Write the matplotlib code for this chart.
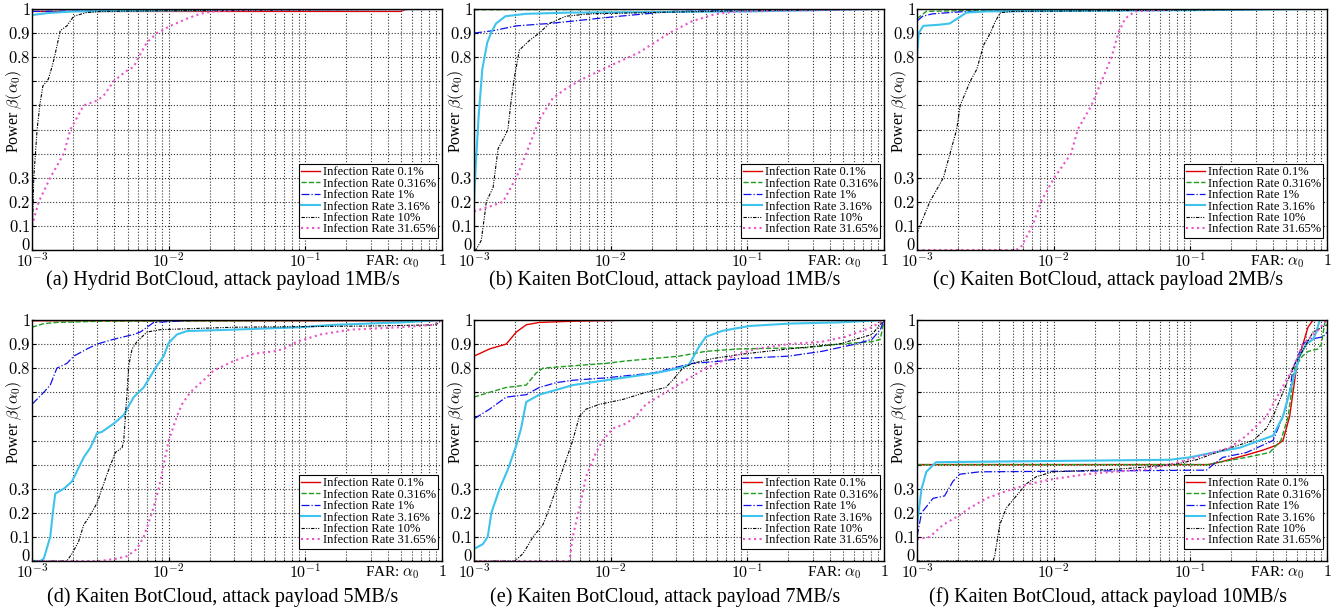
import numpy as np
import matplotlib.pyplot as plt
from matplotlib.ticker import LogLocator, NullFormatter
import matplotlib.transforms as mtransforms

plt.rcParams['font.family'] = 'Liberation Serif'
plt.rcParams['mathtext.fontset'] = 'cm'

labels = ['Infection Rate 0.1%', 'Infection Rate 0.316%', 'Infection Rate 1%',
          'Infection Rate 3.16%', 'Infection Rate 10%', 'Infection Rate 31.65%']
captions = ['(a) Hydrid BotCloud, attack payload 1MB/s',
            '(b) Kaiten BotCloud, attack payload 1MB/s',
            '(c) Kaiten BotCloud, attack payload 2MB/s',
            '(d) Kaiten BotCloud, attack payload 5MB/s',
            '(e) Kaiten BotCloud, attack payload 7MB/s',
            '(f) Kaiten BotCloud, attack payload 10MB/s']

# (a) Hydrid, 1MB/s
a_x_01 = [1e-3, 0.5, 0.55, 1]
a_y_01 = [0.99, 0.99, 1.0, 1.0]
a_x_0316 = [1e-3, 1]
a_y_0316 = [0.998, 1.0]
a_x_1 = [1e-3, 3e-3, 0.1, 1]
a_y_1 = [0.99, 0.993, 0.997, 1.0]
a_x_316 = [1e-3, 1.3e-3, 2e-3, 2e-2, 1]
a_y_316 = [0.975, 0.983, 0.99, 0.995, 1.0]
a_x_10 = [1e-3, 1.03e-3, 1.09e-3, 1.14e-3, 1.2e-3, 1.32e-3, 1.4e-3, 1.46e-3, 1.61e-3,
          1.8e-3, 2.02e-3, 2.5e-3, 3.2e-3, 1e-2, 0.1, 1]
a_y_10 = [0.0, 0.3, 0.5, 0.6, 0.68, 0.71, 0.76, 0.8, 0.91, 0.93, 0.97, 0.985, 0.99,
          0.993, 0.996, 1.0]
a_x_3165 = [1e-3, 1.12e-3, 1.36e-3, 1.71e-3, 1.91e-3, 2.39e-3, 2.99e-3, 3.34e-3, 3.96e-3,
            4.82e-3, 5.55e-3, 6.03e-3, 6.9e-3, 8.2e-3, 1.03e-2, 1.36e-2, 1.7e-2, 2.1e-2,
            3.0e-2, 1]
a_y_3165 = [0.1, 0.2, 0.3, 0.4, 0.5, 0.6, 0.62, 0.64, 0.7, 0.74, 0.76, 0.8, 0.86, 0.9,
            0.93, 0.96, 0.98, 0.99, 0.995, 1.0]

# (b) Kaiten, 1MB/s
b_x_01 = [1e-3, 1]
b_y_01 = [0.999, 1.0]
b_x_0316 = [1e-3, 1]
b_y_0316 = [0.997, 1.0]
b_x_1 = [1e-3, 1.38e-3, 2.04e-3, 3.56e-3, 5.3e-3, 7.8e-3, 1.16e-2, 2.8e-2, 8.7e-2, 1]
b_y_1 = [0.9, 0.91, 0.93, 0.94, 0.95, 0.96, 0.97, 0.99, 0.995, 1.0]
b_x_316 = [1e-3, 1.03e-3, 1.08e-3, 1.15e-3, 1.25e-3, 1.33e-3, 1.45e-3, 1.7e-3, 2.4e-3,
           5e-3, 0.1, 1]
b_y_316 = [0.2, 0.35, 0.55, 0.75, 0.86, 0.9, 0.94, 0.97, 0.98, 0.985, 0.99, 1.0]
b_x_10 = [1e-3, 1.04e-3, 1.13e-3, 1.2e-3, 1.23e-3, 1.38e-3, 1.5e-3, 1.67e-3, 1.77e-3,
          1.87e-3, 1.98e-3, 2.15e-3, 2.55e-3, 3.0e-3, 3.56e-3, 4.7e-3, 7.0e-3, 0.05, 1]
b_y_10 = [0.0, 0.003, 0.04, 0.15, 0.2, 0.26, 0.42, 0.47, 0.5, 0.62, 0.72, 0.83, 0.87,
          0.9, 0.94, 0.97, 0.98, 0.99, 1.0]
b_x_3165 = [1e-3, 1.3e-3, 1.63e-3, 2.04e-3, 2.41e-3, 3.0e-3, 3.77e-3, 4.72e-3, 6.25e-3,
            1.04e-2, 1.62e-2, 2.68e-2, 3.97e-2, 5.9e-2, 8.7e-2, 1]
b_y_3165 = [0.16, 0.18, 0.2, 0.3, 0.4, 0.54, 0.63, 0.67, 0.71, 0.77, 0.82, 0.9, 0.95,
            0.98, 0.99, 1.0]

# (c) Kaiten, 2MB/s
c_x_01 = [1e-3, 1]
c_y_01 = [0.999, 1.0]
c_x_0316 = [1e-3, 1.17e-3, 3e-3, 1]
c_y_0316 = [0.96, 0.99, 0.995, 1.0]
c_x_1 = [1e-3, 1.1e-3, 1.3e-3, 2.3e-3, 1]
c_y_1 = [0.95, 0.97, 0.98, 0.99, 1.0]
c_x_316 = [1e-3, 1.03e-3, 1.11e-3, 1.47e-3, 1.74e-3, 1.85e-3, 2.3e-3, 3.25e-3, 0.1, 1]
c_y_316 = [0.8, 0.9, 0.93, 0.935, 0.94, 0.95, 0.985, 0.99, 0.995, 1.0]
c_x_10 = [1e-3, 1.05e-3, 1.24e-3, 1.56e-3, 1.95e-3, 2.07e-3, 2.45e-3, 2.74e-3, 3.07e-3,
          3.44e-3, 3.75e-3, 4.08e-3, 5.1e-3, 1]
c_y_10 = [0.07, 0.1, 0.2, 0.3, 0.5, 0.6, 0.7, 0.75, 0.85, 0.9, 0.95, 0.985, 0.99, 1.0]
c_x_3165 = [1e-3, 5.27e-3, 5.74e-3, 7.0e-3, 8.06e-3, 1.01e-2, 1.34e-2, 1.5e-2, 1.89e-2,
            2.24e-2, 2.65e-2, 2.97e-2, 3.33e-2, 3.94e-2, 8.7e-2, 1]
c_y_3165 = [0.0, 0.0, 0.01, 0.1, 0.2, 0.3, 0.4, 0.5, 0.6, 0.7, 0.8, 0.9, 0.96, 0.99,
            1.0, 1.0]

# (d) Kaiten, 5MB/s
d_x_01 = [1e-3, 0.8, 1]
d_y_01 = [0.997, 0.997, 1.0]
d_x_0316 = [1e-3, 1.22e-3, 1.52e-3, 3.2e-3, 1]
d_y_0316 = [0.97, 0.985, 0.99, 0.995, 1.0]
d_x_1 = [1e-3, 1.22e-3, 1.36e-3, 1.52e-3, 1.8e-3, 2.02e-3, 2.53e-3, 2.99e-3, 3.96e-3,
         5.55e-3, 6.2e-3, 7.77e-3, 1.7e-2, 1]
d_y_1 = [0.65, 0.7, 0.73, 0.8, 0.82, 0.85, 0.88, 0.9, 0.92, 0.94, 0.95, 0.99, 1.0, 1.0]
d_x_316 = [1e-3, 1.15e-3, 1.22e-3, 1.36e-3, 1.42e-3, 1.48e-3, 1.71e-3, 1.96e-3, 2.39e-3,
           2.67e-3, 2.99e-3, 3.25e-3, 3.96e-3, 4.69e-3, 5.55e-3, 6.56e-3, 8.2e-3, 9.2e-3,
           1.0e-2, 1.15e-2, 1.36e-2, 2.99e-2, 9.2e-2, 0.16, 0.5, 1]
d_y_316 = [0.0, 0.0, 0.01, 0.1, 0.2, 0.28, 0.3, 0.33, 0.43, 0.47, 0.53, 0.536, 0.57,
           0.606, 0.68, 0.72, 0.81, 0.85, 0.905, 0.94, 0.954, 0.96, 0.97, 0.98, 0.99, 1.0]
d_x_10 = [1e-3, 1.8e-3, 1.96e-3, 2.19e-3, 2.39e-3, 2.6e-3, 2.99e-3, 3.16e-3, 3.54e-3,
          4.07e-3, 4.56e-3, 4.69e-3, 4.96e-3, 5.1e-3, 5.4e-3, 5.86e-3, 6.94e-3, 8.7e-3,
          3e-2, 0.3, 0.9, 1]
d_y_10 = [0.0, 0.0, 0.03, 0.08, 0.15, 0.18, 0.24, 0.28, 0.36, 0.45, 0.47, 0.5, 0.7,
          0.81, 0.88, 0.91, 0.95, 0.96, 0.97, 0.975, 0.98, 1.0]
d_x_3165 = [1e-3, 3.16e-3, 4.19e-3, 4.96e-3, 5.86e-3, 6.56e-3, 7.55e-3, 8.45e-3, 9.2e-3,
            1.0e-2, 1.15e-2, 1.25e-2, 1.44e-2, 1.8e-2, 2.13e-2, 3.0e-2, 4.19e-2, 5.87e-2,
            6.94e-2, 8.7e-2, 0.129, 0.214, 0.5, 0.87, 1]
d_y_3165 = [0.0, 0.0, 0.01, 0.02, 0.05, 0.1, 0.2, 0.3, 0.4, 0.5, 0.6, 0.65, 0.7, 0.75,
            0.79, 0.83, 0.86, 0.87, 0.88, 0.91, 0.94, 0.96, 0.97, 0.98, 1.0]

# (e) Kaiten, 7MB/s
e_x_01 = [1e-3, 1.3e-3, 1.72e-3, 2.04e-3, 2.41e-3, 3.0e-3, 5.3e-3, 1.6e-2, 1]
e_y_01 = [0.85, 0.88, 0.9, 0.95, 0.98, 0.99, 0.995, 1.0, 1.0]
e_x_0316 = [1e-3, 1.3e-3, 1.72e-3, 2.41e-3, 2.85e-3, 3.19e-3, 5.3e-3, 9.25e-3, 1.29e-2,
            2.03e-2, 3.17e-2, 4.97e-2, 8.7e-2, 0.267, 0.467, 0.817, 0.94, 1]
e_y_0316 = [0.68, 0.7, 0.72, 0.73, 0.78, 0.8, 0.81, 0.82, 0.83, 0.84, 0.85, 0.87, 0.88,
            0.885, 0.9, 0.91, 0.92, 1.0]
e_x_1 = [1e-3, 1.3e-3, 1.72e-3, 2.41e-3, 3.0e-3, 3.99e-3, 5.3e-3, 9.25e-3, 2.03e-2,
         2.84e-2, 3.97e-2, 6.57e-2, 8.7e-2, 0.2, 0.352, 0.618, 0.817, 0.94, 1]
e_y_1 = [0.59, 0.63, 0.68, 0.69, 0.72, 0.74, 0.75, 0.76, 0.78, 0.8, 0.82, 0.83, 0.84,
         0.85, 0.87, 0.9, 0.92, 0.96, 1.0]
e_x_316 = [1e-3, 1.16e-3, 1.26e-3, 1.34e-3, 1.54e-3, 1.77e-3, 2.04e-3, 2.21e-3, 2.41e-3,
           3.0e-3, 3.99e-3, 5.3e-3, 6.98e-3, 9.25e-3, 1.62e-2, 2.14e-2, 3.17e-2, 3.75e-2,
           4.44e-2, 4.97e-2, 6.57e-2, 0.103, 0.2, 0.467, 1]
e_y_316 = [0.05, 0.07, 0.1, 0.2, 0.3, 0.38, 0.48, 0.55, 0.66, 0.69, 0.71, 0.73, 0.74,
           0.75, 0.77, 0.78, 0.8, 0.815, 0.89, 0.93, 0.955, 0.975, 0.985, 0.99, 1.0]
e_x_10 = [1e-3, 1.98e-3, 2.28e-3, 2.7e-3, 3.19e-3, 3.57e-3, 3.99e-3, 4.59e-3, 5.28e-3,
          5.9e-3, 6.61e-3, 8.27e-3, 1.22e-2, 1.81e-2, 2.53e-2, 2.84e-2, 3.36e-2, 3.97e-2,
          5.56e-2, 9.7e-2, 0.2, 0.467, 0.817, 1]
e_y_10 = [0.0, 0.0, 0.03, 0.1, 0.15, 0.22, 0.3, 0.4, 0.5, 0.6, 0.63, 0.65, 0.67, 0.7,
          0.72, 0.75, 0.8, 0.82, 0.84, 0.86, 0.88, 0.9, 0.94, 1.0]
e_x_3165 = [1e-3, 4.99e-3, 5.28e-3, 6.07e-3, 6.61e-3, 7.81e-3, 8.74e-3, 1.04e-2, 1.29e-2,
            1.53e-2, 1.81e-2, 2.53e-2, 3.55e-2, 4.97e-2, 6.57e-2, 8.69e-2, 0.115, 0.2,
            0.352, 0.52, 0.65, 0.817, 1]
e_y_3165 = [0.0, 0.0, 0.1, 0.25, 0.35, 0.45, 0.5, 0.55, 0.57, 0.6, 0.65, 0.7, 0.75, 0.8,
            0.83, 0.86, 0.88, 0.9, 0.91, 0.93, 0.95, 0.97, 1.0]

# (f) Kaiten, 10MB/s
f_x_01 = [1e-3, 0.135, 0.164, 0.257, 0.34, 0.426, 0.476, 0.533, 0.564, 0.597, 0.667,
          0.726, 0.79, 1]
f_y_01 = [0.4, 0.4, 0.41, 0.44, 0.46, 0.48, 0.5, 0.6, 0.7, 0.8, 0.9, 0.97, 1.0, 1.0]
f_x_0316 = [1e-3, 0.135, 0.164, 0.257, 0.38, 0.46, 0.52, 0.58, 0.66, 0.73, 0.86, 0.91,
            0.97, 1]
f_y_0316 = [0.4, 0.4, 0.41, 0.43, 0.45, 0.5, 0.6, 0.8, 0.85, 0.87, 0.88, 0.9, 1.0, 1.0]
f_x_1 = [1e-3, 1.08e-3, 1.31e-3, 1.59e-3, 1.83e-3, 2.05e-3, 2.87e-3, 0.131, 0.147, 0.173,
         0.257, 0.403, 0.476, 0.533, 0.564, 0.667, 0.747, 0.935, 1]
f_y_1 = [0.1, 0.2, 0.26, 0.27, 0.33, 0.36, 0.37, 0.377, 0.4, 0.43, 0.45, 0.5, 0.6, 0.7,
         0.8, 0.9, 0.92, 0.93, 0.95]
f_x_316 = [1e-3, 1.08e-3, 1.17e-3, 1.38e-3, 7.06e-2, 9.9e-2, 0.147, 0.23, 0.321, 0.403,
           0.476, 0.564, 0.631, 0.706, 0.79, 0.835, 0.884, 1]
f_y_316 = [0.15, 0.3, 0.37, 0.41, 0.42, 0.43, 0.45, 0.47, 0.5, 0.52, 0.6, 0.75, 0.85,
           0.9, 0.92, 0.95, 1.0, 1.0]
f_x_10 = [1e-3, 3.6e-3, 3.7e-3, 4.03e-3, 4.5e-3, 5.33e-3, 6.31e-3, 7.47e-3, 9.9e-3,
          2.72e-2, 4.77e-2, 7.46e-2, 0.111, 0.173, 0.288, 0.36, 0.403, 0.476, 0.564,
          0.706, 0.79, 1]
f_y_10 = [0.0, 0.0, 0.02, 0.15, 0.22, 0.27, 0.32, 0.35, 0.37, 0.38, 0.39, 0.4, 0.42,
          0.46, 0.5, 0.55, 0.6, 0.7, 0.8, 0.9, 0.95, 0.98]
f_x_3165 = [1e-3, 1.24e-3, 1.55e-3, 2.05e-3, 2.43e-3, 3.22e-3, 4.5e-3, 6.67e-3, 9.9e-3,
            1.73e-2, 2.72e-2, 4.77e-2, 7.06e-2, 0.111, 0.194, 0.257, 0.36, 0.45, 0.564,
            0.667, 0.835, 1]
f_y_3165 = [0.09, 0.1, 0.15, 0.19, 0.22, 0.26, 0.29, 0.32, 0.34, 0.36, 0.37, 0.38, 0.4,
            0.43, 0.47, 0.52, 0.6, 0.7, 0.8, 0.9, 0.95, 1.0]

panels = [
    ([a_x_01, a_x_0316, a_x_1, a_x_316, a_x_10, a_x_3165],
     [a_y_01, a_y_0316, a_y_1, a_y_316, a_y_10, a_y_3165]),
    ([b_x_01, b_x_0316, b_x_1, b_x_316, b_x_10, b_x_3165],
     [b_y_01, b_y_0316, b_y_1, b_y_316, b_y_10, b_y_3165]),
    ([c_x_01, c_x_0316, c_x_1, c_x_316, c_x_10, c_x_3165],
     [c_y_01, c_y_0316, c_y_1, c_y_316, c_y_10, c_y_3165]),
    ([d_x_01, d_x_0316, d_x_1, d_x_316, d_x_10, d_x_3165],
     [d_y_01, d_y_0316, d_y_1, d_y_316, d_y_10, d_y_3165]),
    ([e_x_01, e_x_0316, e_x_1, e_x_316, e_x_10, e_x_3165],
     [e_y_01, e_y_0316, e_y_1, e_y_316, e_y_10, e_y_3165]),
    ([f_x_01, f_x_0316, f_x_1, f_x_316, f_x_10, f_x_3165],
     [f_y_01, f_y_0316, f_y_1, f_y_316, f_y_10, f_y_3165]),
]

styles = [
    dict(color='#e00000', ls='-', lw=1.0),
    dict(color='#1e9e1e', ls='--', lw=1.0),
    dict(color='#1010ee', ls='-.', lw=0.9),
    dict(color='#3ec3ec', ls='-', lw=1.5),
    dict(color='k', ls=(0, (3, 1.2, 1, 1.2, 1, 1.2)), lw=0.8),
    dict(color='#e855c8', ls=':', lw=1.5),
]

yticks = np.round(np.arange(0, 1.01, 0.1), 1)
ytick_labels = [r'$0$', r'$0.1$', r'$0.2$', r'$0.3$', '', '', '', '',
                r'$0.8$', r'$0.9$', r'$1$']

W, H = 1343, 612
fig = plt.figure(figsize=(W / 100, H / 100), dpi=100)

lefts = [32, 474, 917]
tops = [9, 320]
caption_y = [280, 597]
aw, ah = 410, 241

for i, (xs, ys) in enumerate(panels):
    row, col = divmod(i, 3)
    l, t = lefts[col], tops[row]
    ax = fig.add_axes([l / W, 1 - (t + ah) / H, aw / W, ah / H])
    for x, y, st, lab in zip(xs, ys, styles, labels):
        ax.plot(x, y, label=lab, **st)

    ax.set_xscale('log')
    ax.set_xlim(1e-3, 1)
    ax.set_ylim(0, 1)
    ax.set_xticks([1e-3, 1e-2, 1e-1, 1])
    ax.set_xticklabels([r'$10^{-3}$', r'$10^{-2}$', r'$10^{-1}$', r'$1$'])
    ax.xaxis.set_minor_locator(LogLocator(base=10, subs=range(2, 10)))
    ax.xaxis.set_minor_formatter(NullFormatter())
    ax.set_yticks(yticks)
    ax.set_yticklabels(ytick_labels)
    ax.tick_params(which='both', direction='in')
    ax.tick_params(axis='y', pad=1, labelsize=12)
    ax.tick_params(axis='x', pad=2, labelsize=11.5)
    ax.tick_params(which='major', length=3)
    ax.tick_params(which='minor', length=1.5)
    ax.grid(True, which='both', axis='x', ls=':', color='0.2', lw=0.8)
    ax.grid(True, which='major', axis='y', ls=':', color='0.2', lw=0.8)
    for sp in ax.spines.values():
        sp.set_linewidth(1.0)

    # lift the "0" label a little so it clears the 10^-3 label
    zero_lab = ax.get_yticklabels()[0]
    zero_lab.set_transform(zero_lab.get_transform() +
                           mtransforms.ScaledTranslation(0, 4 / 72, fig.dpi_scale_trans))

    ax.text(-0.045, 0.575, r'Power $\beta(\alpha_0)$', transform=ax.transAxes,
            rotation=90, ha='center', va='center', fontsize=11.5)
    trans = mtransforms.blended_transform_factory(ax.transData, ax.transAxes)
    ax.text(0.43, -0.015, r'FAR: $\alpha_0$', transform=trans, ha='center', va='top',
            fontsize=11)

    leg = ax.legend(loc='lower right', bbox_to_anchor=(1, 0.035), fontsize=9,
                    labelspacing=-0.05, borderpad=0.2, handletextpad=0.2,
                    handlelength=1.5, borderaxespad=0.3, fancybox=False,
                    framealpha=1, edgecolor='k')
    leg.get_frame().set_linewidth(0.8)

    fig.text((l + aw / 2 - 14) / W, 1 - caption_y[row] / H, captions[i],
             ha='center', va='center', fontsize=14.5)

fig.savefig('out.png', dpi=100)
